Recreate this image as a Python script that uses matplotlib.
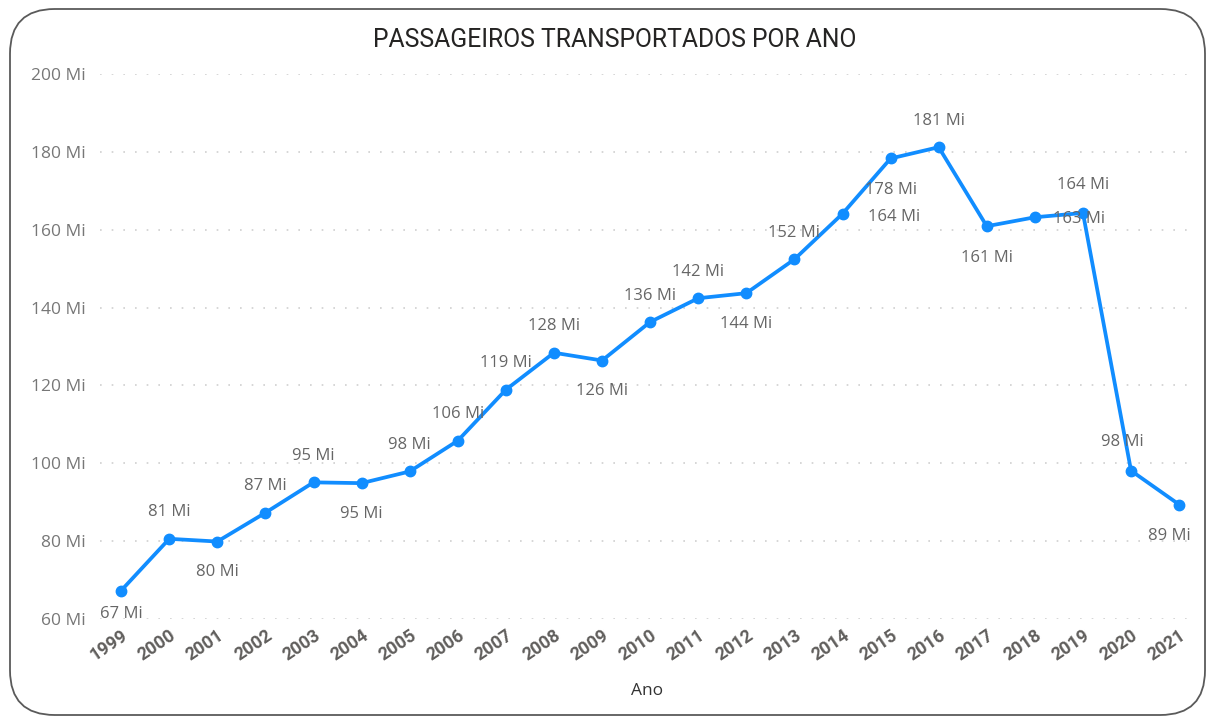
import matplotlib
matplotlib.use("Agg")
import matplotlib.pyplot as plt
from matplotlib.patches import FancyBboxPatch
from matplotlib.transforms import ScaledTranslation

# Passengers carried per year (millions)
anos = ["1999", "2000", "2001", "2002", "2003", "2004", "2005", "2006", "2007", "2008",
        "2009", "2010", "2011", "2012", "2013", "2014", "2015", "2016", "2017", "2018",
        "2019", "2020", "2021"]
passageiros = [67.3, 80.6, 79.9, 87.3, 95.1, 94.9, 97.9, 105.8, 118.9, 128.4,
               126.4, 136.3, 142.4, 143.7, 152.4, 164.1, 178.3, 181.2, 160.9, 163.2,
               164.3, 98.1, 89.4]
y_ticks = [60, 80, 100, 120, 140, 160, 180, 200]

# Label offsets (points) for each data label: (dx, dy)
label_offsets = [(0, -17), (0, 19), (0, -22), (0, 19), (0, 19), (0, -22), (0, 19),
                 (0, 19), (0, 19), (0, 19), (0, -22), (0, 19), (0, 19), (0, -22),
                 (0, 19), (37, -2), (0, -23), (0, 19), (0, -23), (32, -1), (0, 20),
                 (-6, 21), (-7, -23)]

plt.rcParams["font.family"] = ["Open Sans", "DejaVu Sans"]

W, H = 1207, 718
fig = plt.figure(figsize=(W / 100, H / 100), dpi=100)
fig.patch.set_facecolor("white")

# rounded card border
card = FancyBboxPatch((10 / W, 3 / H), (1195 / W), (706 / H),
                      boxstyle="round,pad=0,rounding_size=0.037",
                      transform=fig.transFigure, facecolor="none",
                      edgecolor="#5a5a5a", linewidth=1.3, mutation_aspect=W / H)
fig.patches.append(card)

ax = fig.add_axes([100 / W, 1 - 619 / H, 1095 / W, 545 / H])
x = list(range(len(anos)))
ax.plot(x, passageiros, color="#118DFF", linewidth=2.7, marker="o",
        markersize=7.5, zorder=3, solid_joinstyle="round")

ax.set_xlim(-0.44, 22.33)
ax.set_ylim(60, 200)
ax.set_yticks(y_ticks)
ax.set_yticklabels([f"{v} Mi" for v in y_ticks], color="#777777", fontsize=12.5)
ax.set_xticks(x)
ax.set_xticklabels(anos, rotation=34, ha="right", va="top", rotation_mode="anchor",
                   color="#605E5C", fontsize=13, fontweight="bold",
                   family=["Roboto", "DejaVu Sans"])
shift = ScaledTranslation(-12 / 100, 0, fig.dpi_scale_trans)
for lbl in ax.get_xticklabels():
    lbl.set_transform(lbl.get_transform() + shift)
ax.tick_params(axis="both", length=0)
ax.tick_params(axis="y", pad=10)
ax.tick_params(axis="x", pad=5)

for s in ax.spines.values():
    s.set_visible(False)
ax.grid(axis="y", color="#cfcfcf", linestyle=(0, (1, 6)), linewidth=1.2)
ax.set_axisbelow(True)

for xi, v, (dx, dy) in zip(x, passageiros, label_offsets):
    ax.annotate(f"{round(v)} Mi", (xi, v), xytext=(dx, dy), textcoords="offset points",
                ha="center", va="center", fontsize=12, color="#666666", zorder=4)

fig.text(615 / W, 1 - 40 / H, "PASSAGEIROS TRANSPORTADOS POR ANO", ha="center",
         va="center", fontsize=17.8, color="#252423",
         family=["Roboto", "DejaVu Sans"])
ax.set_xlabel("Ano", fontsize=12.5, color="#333333", labelpad=14)

fig.savefig("out.png", dpi=100, facecolor="white")
